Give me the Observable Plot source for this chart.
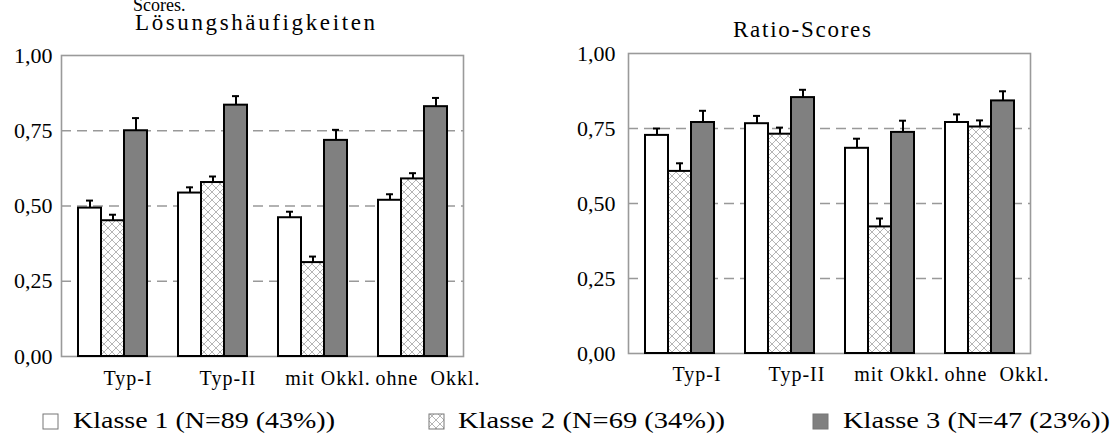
<!DOCTYPE html>
<html><head><meta charset="utf-8">
<script src="https://cdn.jsdelivr.net/npm/d3@7"></script>
<script src="https://cdn.jsdelivr.net/npm/@observablehq/plot@0.6"></script>
<style>
body{margin:0;background:#fff;}
#fig{position:relative;width:1116px;height:441px;overflow:hidden;font-family:'Liberation Serif','Times New Roman','DejaVu Serif',serif;color:#000;background:#fff;}
#fig svg{position:absolute;top:0;}
#fig text{font-family:'Liberation Serif','Times New Roman','DejaVu Serif',serif;}
</style></head><body>
<svg width="0" height="0" style="position:absolute">
  <defs>
    <pattern id="hatch" patternUnits="userSpaceOnUse" width="8" height="8">
      <rect width="8" height="8" fill="#fff"></rect>
      <path d="M0,0L8,8M8,0L0,8" stroke="#b5b5b5" stroke-width="1"></path>
    </pattern>
  </defs>
</svg>
<div id="fig"></div>
<script>
// ---- data ----
const categories = ["Typ-I", "Typ-II", "mit Okkl.", "ohne\u00a0 Okkl."];
const classes = ["Klasse 1", "Klasse 2", "Klasse 3"];
const legendLabels = ["Klasse 1 (N=89 (43%))", "Klasse 2 (N=69 (34%))", "Klasse 3 (N=47 (23%))"];
const yTicks = [0, 0.25, 0.5, 0.75, 1];
const gridTicks = [0.25, 0.5, 0.75];

// Lösungshäufigkeiten (means, standard errors)
const loesK1 = [0.493, 0.543, 0.461, 0.519];
const loesK2 = [0.451, 0.578, 0.312, 0.590];
const loesK3 = [0.750, 0.835, 0.718, 0.830];
const loesErrK1 = [0.025, 0.019, 0.020, 0.020];
const loesErrK2 = [0.020, 0.020, 0.020, 0.019];
const loesErrK3 = [0.042, 0.030, 0.035, 0.029];

// Ratio-Scores
const ratioK1 = [0.727, 0.766, 0.684, 0.770];
const ratioK2 = [0.607, 0.731, 0.422, 0.755];
const ratioK3 = [0.770, 0.853, 0.737, 0.842];
const ratioErrK1 = [0.023, 0.026, 0.032, 0.027];
const ratioErrK2 = [0.027, 0.022, 0.028, 0.022];
const ratioErrK3 = [0.039, 0.026, 0.039, 0.032];

const fills = ["#ffffff", "url(#hatch)", "#808080"];
const serif = "'Liberation Serif','Times New Roman','DejaVu Serif',serif";

function table(means, errs) {
  const rows = [];
  categories.forEach((c, i) => classes.forEach((k, j) => rows.push({cat: c, cls: k, v: means[j][i], e: errs[j][i]})));
  return rows;
}

const fig = document.getElementById("fig");

function panel({rows, left, width, mL, mR, mT, mB, yPad, fxPad, fxDx}) {
  const common = {
    width, height: 441,
    marginLeft: mL, marginRight: mR, marginTop: mT, marginBottom: mB,
    style: {fontFamily: serif, fontSize: "22px", color: "#000", background: "transparent", overflow: "visible"}
  };
  const bg = Plot.plot({
    ...common,
    x: {axis: null},
    y: {domain: [0, 1], ticks: yTicks, tickFormat: d => d.toFixed(2).replace(".", ","), tickSize: 0, tickPadding: yPad, label: null},
    marks: [
      Plot.ruleY(gridTicks, {stroke: "#999", strokeWidth: 1.3, strokeDasharray: "10,6"}),
      Plot.frame({stroke: "#9a9a9a", strokeWidth: 1.6})
    ]
  });
  const fg = Plot.plot({
    ...common,
    style: {...common.style, fontSize: "20px", letterSpacing: "1px"},
    fx: {domain: categories, paddingInner: 0.293, paddingOuter: 0.1465, label: null, axis: null},
    x: {domain: classes, padding: 0, axis: null},
    y: {domain: [0, 1], axis: null},
    color: {domain: classes, range: fills},
    marks: [
      Plot.axisFx({anchor: "bottom", label: null, tickSize: 0, tickPadding: fxPad, dx: fxDx}),
      Plot.barY(rows, {fx: "cat", x: "cls", y: "v", fill: "cls", stroke: "#000", strokeWidth: 2}),
      Plot.ruleX(rows, {fx: "cat", x: "cls", y1: "v", y2: d => d.v + d.e, stroke: "#000", strokeWidth: 2}),
      Plot.tickY(rows, {fx: "cat", x: "cls", y: d => d.v + d.e, stroke: "#000", strokeWidth: 2, insetLeft: 8, insetRight: 8})
    ]
  });
  bg.style.left = left + "px";
  fg.style.left = left + "px";
  fig.appendChild(bg);
  fig.appendChild(fg);
}

panel({rows: table([loesK1, loesK2, loesK3], [loesErrK1, loesErrK2, loesErrK3]),
  left: 0, width: 560, mL: 61, mR: 97, mT: 55, mB: 85, yPad: 9, fxPad: 14, fxDx: 15});
panel({rows: table([ratioK1, ratioK2, ratioK3], [ratioErrK1, ratioErrK2, ratioErrK3]),
  left: 560, width: 556, mL: 68, mR: 86, mT: 53, mB: 88, yPad: 13, fxPad: 13, fxDx: 17});

// titles and legend
const ov = d3.select(fig).append("svg").attr("width", 1116).attr("height", 441)
  .style("left", "0px").style("font-family", serif);
ov.append("text").attr("x", 133).attr("y", 11).attr("font-size", 18).text("Scores.");
ov.append("text").attr("x", 135).attr("y", 30).attr("font-size", 23)
  .attr("textLength", 240).attr("lengthAdjust", "spacing").text("Lösungshäufigkeiten");
ov.append("text").attr("x", 733).attr("y", 37).attr("font-size", 23)
  .attr("textLength", 138).attr("lengthAdjust", "spacing").text("Ratio-Scores");

const legX = [43, 429, 813];
const legTextX = [73, 458, 843];
const legLen = [262, 267, 267];
legendLabels.forEach((lab, i) => {
  ov.append("rect").attr("x", legX[i]).attr("y", 414).attr("width", 15).attr("height", 15)
    .attr("fill", fills[i]).attr("stroke", "#777").attr("stroke-width", 1);
  ov.append("text").attr("x", legTextX[i]).attr("y", 428).attr("font-size", 23)
    .attr("textLength", legLen[i]).attr("lengthAdjust", "spacingAndGlyphs").text(lab);
});
</script>
</body></html>
